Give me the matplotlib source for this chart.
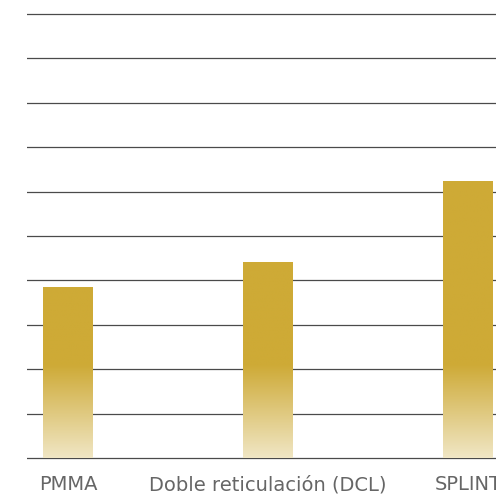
import numpy as np
import matplotlib
matplotlib.use("Agg")
import matplotlib.pyplot as plt
from matplotlib.colors import LinearSegmentedColormap

categories = ["PMMA", "Doble reticulación (DCL)", "SPLINT"]
values = [3.85, 4.41, 6.24]
grid_levels = list(range(0, 11))

gold = "#CEAA36"
pale = "#F0E6C4"
fade_top = 2.1  # gradient fades below this level

fig = plt.figure(figsize=(4.96, 4.96), dpi=100)
ax = fig.add_axes([27/496, 36/496, 1 - 27/496, 448/496])

x = np.arange(len(categories))
bars = ax.bar(x, values, width=0.25, color="none", edgecolor="none", zorder=3)

cmap = LinearSegmentedColormap.from_list("fade", [pale, gold])
for b, v in zip(bars, values):
    x0 = b.get_x()
    w = b.get_width()
    # solid above fade_top, linear fade below
    levels = np.linspace(0, v, 256)
    g = np.clip(levels / fade_top, 0, 1).reshape(-1, 1)
    im = ax.imshow(g, cmap=cmap, vmin=0, vmax=1, origin="lower", aspect="auto",
                   extent=[x0, x0 + w, 0, v], zorder=3, interpolation="bilinear")
    im.set_clip_path(b)

for lv in grid_levels:
    ax.axhline(lv, color="#4a4a4a", lw=0.9, zorder=1)

ax.set_xlim(-0.205, 2.14)
ax.set_ylim(-0.045, 10.045)
ax.set_xticks(x)
ax.set_xticklabels(categories, fontsize=14, color="#666666", family="DejaVu Sans")
ax.tick_params(axis="x", length=0, pad=11)
ax.set_yticks([])
for s in ax.spines.values():
    s.set_visible(False)

fig.savefig("out.png", dpi=100)
